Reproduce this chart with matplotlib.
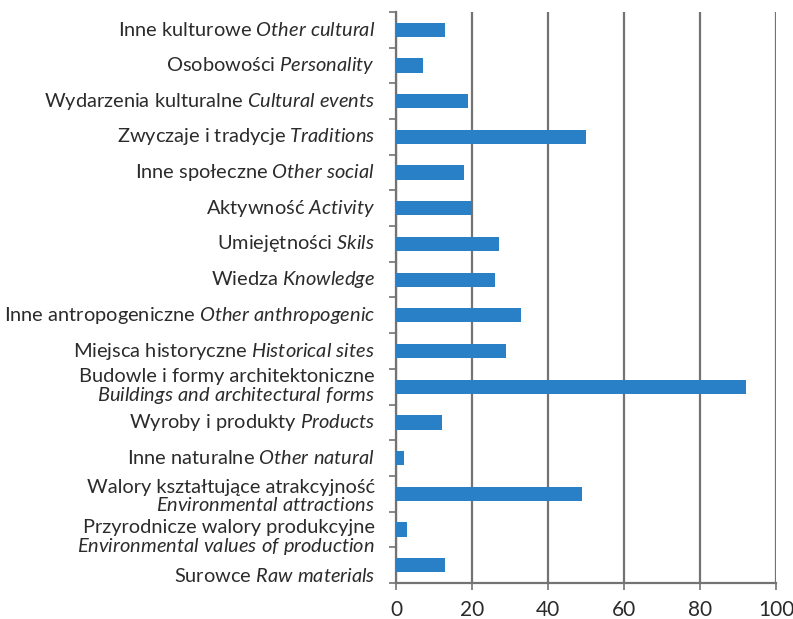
import matplotlib
matplotlib.use("Agg")
import matplotlib.pyplot as plt
import matplotlib.transforms as mtransforms
import numpy as np

plt.rcParams["font.family"] = ["Lato", "DejaVu Sans"]
plt.rcParams["mathtext.fontset"] = "custom"
plt.rcParams["mathtext.rm"] = "Lato"
plt.rcParams["mathtext.it"] = "Lato:italic"

# categories from bottom to top: polish part (regular) + english part (italic)
polish = [
    "Surowce",
    "Przyrodnicze walory produkcyjne\n",
    "Walory kształtujące atrakcyjność\n",
    "Inne naturalne",
    "Wyroby i produkty",
    "Budowle i formy architektoniczne\n",
    "Miejsca historyczne",
    "Inne antropogeniczne",
    "Wiedza",
    "Umiejętności",
    "Aktywność",
    "Inne społeczne",
    "Zwyczaje i tradycje",
    "Wydarzenia kulturalne",
    "Osobowości",
    "Inne kulturowe",
]
english = [
    "Raw materials",
    "Environmental values of production",
    "Environmental attractions",
    "Other natural",
    "Products",
    "Buildings and architectural forms",
    "Historical sites",
    "Other anthropogenic",
    "Knowledge",
    "Skils",
    "Activity",
    "Other social",
    "Traditions",
    "Cultural events",
    "Personality",
    "Other cultural",
]
values = [13, 3, 49, 2, 12, 92, 29, 33, 26, 27, 20, 18, 50, 19, 7, 13]
x_ticks = [0, 20, 40, 60, 80, 100]

text_color = "#2b2b2b"
grid_color = "#737373"

# excel pushed a few of the bottom labels down a bit (pixels)
label_shift = {0: 11, 1: 9, 2: 3}


def make_label(pl, en):
    en_math = "$\\mathit{" + en.replace(" ", "\\ ") + "}$"
    if pl.endswith("\n"):
        return pl + en_math
    return pl + " " + en_math


labels = [make_label(p, e) for p, e in zip(polish, english)]
pos = np.arange(len(values))

fig = plt.figure(figsize=(7.93, 6.19), dpi=100)
ax = fig.add_axes([0.4994, 0.0582, 0.4792, 0.9224])

ax.barh(pos, values, height=0.4, color="#2980C6", zorder=3)

ax.set_xlim(0, 100)
ax.set_ylim(-0.5, len(values) - 0.5)
ax.set_xticks(x_ticks)
ax.set_xticklabels([str(t) for t in x_ticks])
ax.xaxis.grid(True, color=grid_color, linewidth=1.6, zorder=0)

ax.set_yticks([])
ax.set_yticks(np.arange(len(values) + 1) - 0.5, minor=True)
ax.tick_params(axis="y", which="minor", length=5, width=1.2, color=grid_color, direction="out")
ax.tick_params(axis="x", length=5, width=1.2, color=grid_color, pad=7, labelsize=15, labelcolor=text_color)

# y labels drawn by hand so the two-line ones can be nudged like in the original
base = ax.get_yaxis_transform()
for i, (p, lab) in enumerate(zip(pos, labels)):
    dy = -label_shift.get(i, 0) / 100.0
    tr = base + mtransforms.ScaledTranslation(-21 / 100.0, dy, fig.dpi_scale_trans)
    ax.text(0, p, lab, transform=tr, ha="right", va="center", multialignment="right",
            fontsize=14.4, color=text_color, linespacing=1.0, clip_on=False)

for side in ["top", "right"]:
    ax.spines[side].set_visible(False)
for side in ["left", "bottom"]:
    ax.spines[side].set_color(grid_color)
    ax.spines[side].set_linewidth(1.6)

fig.savefig("out.png", dpi=100)
